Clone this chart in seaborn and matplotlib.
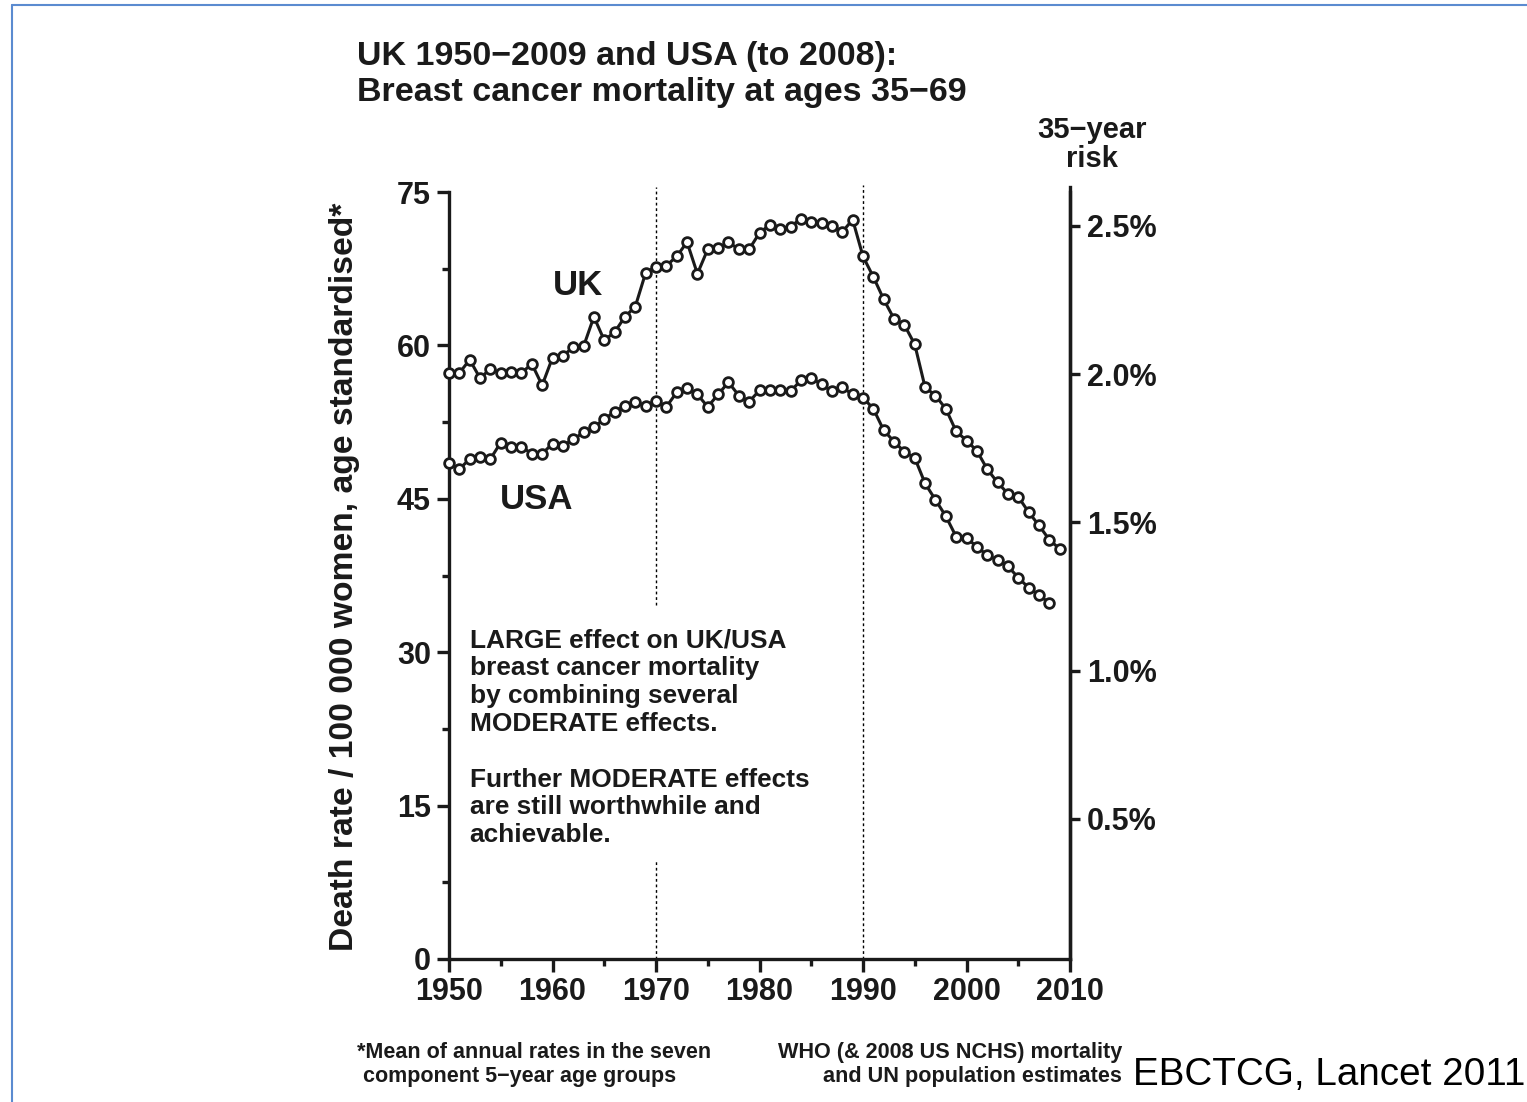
import numpy as np
import pandas as pd
import matplotlib
matplotlib.use("Agg")
import matplotlib.pyplot as plt
from matplotlib.lines import Line2D
from matplotlib.ticker import MultipleLocator
import seaborn as sns

# death rate per 100 000 women aged 35-69, age standardised
uk_years = list(range(1950, 2010))
uk_rate = [57.3, 57.3, 58.6, 56.8, 57.7, 57.3, 57.4, 57.3, 58.2, 56.1,
           58.8, 59.0, 59.8, 59.9, 62.8, 60.5, 61.3, 62.8, 63.8, 67.1,
           67.7, 67.8, 68.7, 70.1, 67.0, 69.4, 69.5, 70.1, 69.4, 69.4,
           71.0, 71.8, 71.4, 71.6, 72.4, 72.1, 72.0, 71.7, 71.1, 72.3,
           68.7, 66.7, 64.5, 62.6, 62.0, 60.1, 55.9, 55.1, 53.8, 51.6,
           50.7, 49.7, 47.9, 46.6, 45.5, 45.2, 43.7, 42.4, 41.0, 40.1]

usa_years = list(range(1950, 2009))
usa_rate = [48.5, 47.9, 48.9, 49.1, 48.9, 50.5, 50.1, 50.1, 49.4, 49.4,
            50.4, 50.2, 50.8, 51.5, 52.0, 52.8, 53.5, 54.1, 54.5, 54.1,
            54.6, 54.0, 55.4, 55.8, 55.2, 54.0, 55.2, 56.4, 55.1, 54.5,
            55.6, 55.6, 55.6, 55.5, 56.6, 56.8, 56.2, 55.5, 55.9, 55.2,
            54.9, 53.8, 51.7, 50.6, 49.6, 49.0, 46.5, 44.9, 43.3, 41.3,
            41.2, 40.3, 39.5, 39.0, 38.4, 37.3, 36.3, 35.6, 34.8]

left_ticks = [0, 15, 30, 45, 60, 75]
risk_ticks = [0.5, 1.0, 1.5, 2.0, 2.5]
risk_labels = ['0.5%', '1.0%', '1.5%', '2.0%', '2.5%']

df = pd.concat([
    pd.DataFrame({'year': uk_years, 'rate': uk_rate, 'country': 'UK'}),
    pd.DataFrame({'year': usa_years, 'rate': usa_rate, 'country': 'USA'}),
])

sns.set_style('ticks')
plt.rcParams['font.family'] = ['Liberation Sans', 'DejaVu Sans']

fig = plt.figure(figsize=(15.27, 11.02), dpi=100)
ax = fig.add_axes([449 / 1527, 1 - 959 / 1102, 621 / 1527, 767 / 1102])

# dotted reference lines (1970 one broken around the text box)
ax.vlines(1970, 34.6, 75.5, colors='black', linestyles=(0, (2, 2)), lw=1, clip_on=False)
ax.vlines(1970, 0, 9.7, colors='black', linestyles=(0, (2, 2)), lw=1)
ax.vlines(1990, 0, 75.7, colors='black', linestyles=(0, (2, 2)), lw=1, clip_on=False)

sns.lineplot(data=df, x='year', y='rate', units='country', estimator=None,
             color='#1a1a1a', lw=2.2, marker='o', markersize=7,
             markerfacecolor='white', markeredgecolor='#1a1a1a',
             markeredgewidth=2.0, ax=ax, clip_on=False, legend=False, zorder=3)

ax.set_xlim(1950, 2010)
ax.set_ylim(0, 75)
ax.set_xticks(range(1950, 2011, 10))
ax.xaxis.set_minor_locator(MultipleLocator(5))
ax.set_yticks(left_ticks)
ax.yaxis.set_minor_locator(MultipleLocator(7.5))
ax.set_xlabel('')
ax.set_ylabel('')
for s in ['left', 'bottom', 'right']:
    ax.spines[s].set_linewidth(2.4)
    ax.spines[s].set_color('#1a1a1a')
ax.spines['top'].set_visible(False)
ax.tick_params(axis='both', which='major', length=9, width=2.4, color='#1a1a1a',
               labelsize=22, pad=4)
ax.tick_params(axis='both', which='minor', length=5, width=2.4, color='#1a1a1a')
for lab in ax.get_xticklabels() + ax.get_yticklabels():
    lab.set_fontweight('bold')
    lab.set_color('#1a1a1a')

ax2 = ax.twinx()
ax2.set_ylim(0.027, 2.614)
ax2.set_yticks(risk_ticks)
ax2.set_yticklabels(risk_labels, fontsize=22, fontweight='bold', color='#1a1a1a')
ax2.tick_params(axis='y', length=7, width=2.4, color='#1a1a1a', pad=5)
for s in ['left', 'bottom', 'top']:
    ax2.spines[s].set_visible(False)
ax2.spines['right'].set_linewidth(2.4)
ax2.spines['right'].set_color('#1a1a1a')
ax2.spines['right'].set_bounds(0.027, 2.63)

ax.text(1962.5, 65.9, 'UK', fontsize=25, fontweight='bold', ha='center', va='center', color='#1a1a1a')
ax.text(1958.5, 44.9, 'USA', fontsize=25, fontweight='bold', ha='center', va='center', color='#1a1a1a')
ax.text(1952.0, 32.3,
        'LARGE effect on UK/USA\nbreast cancer mortality\nby combining several\nMODERATE effects.\n\n'
        'Further MODERATE effects\nare still worthwhile and\nachievable.',
        fontsize=18.9, fontweight='bold', ha='left', va='top', linespacing=1.2, color='#1a1a1a')

fig.text(357 / 1527, 1 - 41 / 1102,
         'UK 1950\u22122009 and USA (to 2008):\nBreast cancer mortality at ages 35\u221269',
         fontsize=24.5, fontweight='bold', ha='left', va='top', linespacing=1.22, color='#1a1a1a')
fig.text(1092 / 1527, 1 - 116 / 1102, '35\u2212year\nrisk', fontsize=21, fontweight='bold',
         ha='center', va='top', linespacing=1.05, color='#1a1a1a')
fig.text(345 / 1527, 1 - 577 / 1102, 'Death rate / 100 000 women, age standardised*',
         fontsize=24.2, fontweight='bold', rotation=90, ha='center', va='center', color='#1a1a1a')

fig.text(357 / 1527, 1 - 1042 / 1102,
         '*Mean of annual rates in the seven\n component 5\u2212year age groups',
         fontsize=15.5, fontweight='bold', ha='left', va='top', linespacing=1.19,
         color='#1a1a1a')
fig.text(1122 / 1527, 1 - 1042 / 1102,
         'WHO (& 2008 US NCHS) mortality\nand UN population estimates',
         fontsize=15.6, fontweight='bold', ha='right', va='top', linespacing=1.19,
         multialignment='right', color='#1a1a1a')
fig.text(1133 / 1527, 1 - 1085 / 1102, 'EBCTCG, Lancet 2011', fontsize=27.8,
         ha='left', va='baseline', color='black')

# slide frame
fig.add_artist(Line2D([12 / 1527, 1.0], [1 - 4.5 / 1102, 1 - 4.5 / 1102],
                      transform=fig.transFigure, color='#5b8bd0', lw=1.5))
fig.add_artist(Line2D([12 / 1527, 12 / 1527], [0, 1 - 4.5 / 1102],
                      transform=fig.transFigure, color='#5b8bd0', lw=1.5))

fig.savefig('out.png', dpi=100, facecolor='white')
